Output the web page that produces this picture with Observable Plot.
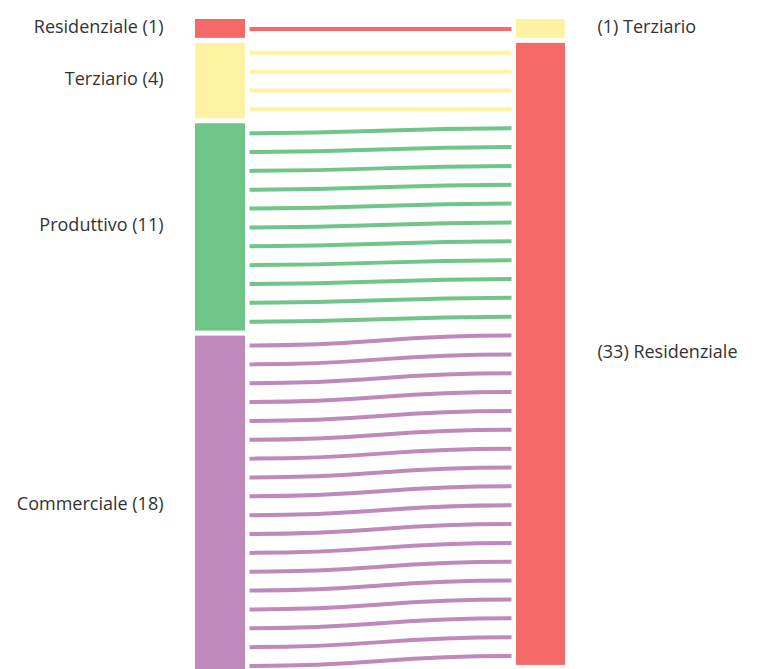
<!DOCTYPE html>
<html><head><meta charset="utf-8">
<script src="https://cdn.jsdelivr.net/npm/d3@7"></script>
<script src="https://cdn.jsdelivr.net/npm/@observablehq/plot@0.6"></script>
<style>body{margin:0;background:#fff} #chart{width:759px;height:669px;overflow:hidden}</style>
</head><body><div id="chart"></div>
<script>
// ---- data ----
const sourceCategories = ["Residenziale", "Terziario", "Produttivo", "Commerciale"];
const sourceCounts = [1, 4, 11, 18];
const targetCategories = ["Terziario", "Residenziale"];
const targetCounts = [1, 33];
const flowSources = ["Residenziale", "Terziario", "Produttivo", "Commerciale"];
const flowTargets = ["Terziario", "Residenziale", "Residenziale", "Residenziale"];
const flowCounts = [1, 4, 11, 18];
const colorDomain = ["Residenziale", "Terziario", "Produttivo", "Commerciale"];
const colorRange = ["#f56a67", "#fff3a3", "#70c688", "#bf89bb"];

// ---- layout ----
const unitPx = 18.85, gapPx = 5, topPx = 19;
const leftEdge = 245, rightEdge = 516, span = rightEdge - leftEdge;
const nodeW = 50 / span, nodeWR = 49 / span;
const gapU = gapPx / unitPx;

function stack(cats, counts) {
  let y = 0;
  return cats.map((c, i) => {
    const n = {name: c, count: counts[i], y0: y, y1: y + counts[i]};
    y += counts[i] + gapU;
    return n;
  });
}
const leftNodes = stack(sourceCategories, sourceCounts);
const rightNodes = stack(targetCategories, targetCounts);
const leftTotal = leftNodes[leftNodes.length - 1].y1;

const lOff = {}, rOff = {};
leftNodes.forEach(n => lOff[n.name] = n.y0);
rightNodes.forEach(n => rOff[n.name] = n.y0);
const links = [];
flowSources.forEach((s, i) => {
  const t = flowTargets[i];
  for (let k = 0; k < flowCounts[i]; k++) {
    links.push({source: s, target: t, y1: lOff[s] + 0.5, y2: rOff[t] + 0.5});
    lOff[s] += 1; rOff[t] += 1;
  }
});

const chart = Plot.plot({
  width: 759,
  height: 669,
  margin: 0,
  x: {domain: [0, 1], range: [leftEdge, rightEdge], axis: null},
  y: {domain: [0, leftTotal], range: [topPx, topPx + leftTotal * unitPx], axis: null},
  color: {domain: colorDomain, range: colorRange},
  style: {fontFamily: "'Open Sans', sans-serif", fontSize: "18px", background: "white", overflow: "hidden"},
  marks: [
    Plot.rect(leftNodes, {x1: -nodeW, x2: 0, y1: "y0", y2: "y1", fill: "name"}),
    Plot.rect(rightNodes, {x1: 1, x2: 1 + nodeWR, y1: "y0", y2: "y1", fill: "name"}),
    Plot.link(links, {x1: 4 / span, x2: 1 - 5 / span, y1: "y1", y2: "y2", stroke: "source", strokeWidth: 4, curve: "bump-x"}),
    Plot.text(leftNodes, {x: -nodeW, y: d => (d.y0 + d.y1) / 2, text: d => `${d.name} (${d.count})`, textAnchor: "end", dx: -32, dy: -2, fill: "#333", fontSize: 18}),
    Plot.text(rightNodes, {x: 1 + nodeWR, y: d => (d.y0 + d.y1) / 2, text: d => `(${d.count}) ${d.name}`, textAnchor: "start", dx: 32, dy: -2, fill: "#333", fontSize: 18})
  ]
});
document.getElementById("chart").appendChild(chart);
</script>
</body></html>
